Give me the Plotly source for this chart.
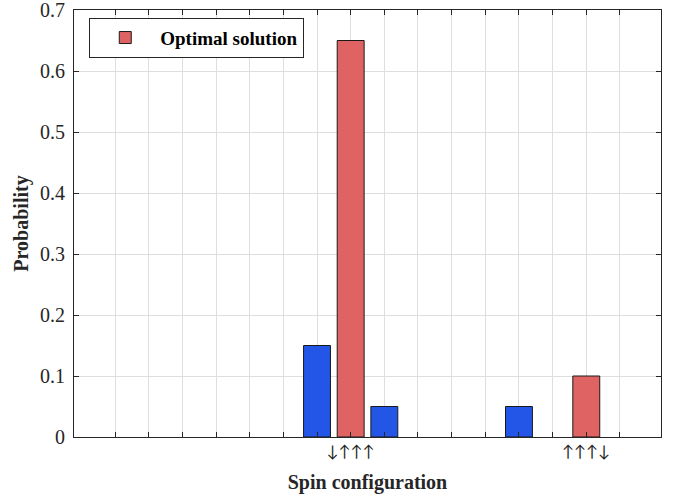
import plotly.graph_objects as go

# Data
configs = list(range(1, 17))
tick_labels = ["", "", "", "", "", "", "", "↓↑↑↑", "", "", "", "", "", "", "↑↑↑↓", ""]
other_prob = [None, None, None, None, None, None, 0.15, None, 0.05, None, None, None, 0.05, None, None, None]
optimal_prob = [None, None, None, None, None, None, None, 0.65, None, None, None, None, None, None, 0.10, None]
y_ticks = [0, 0.1, 0.2, 0.3, 0.4, 0.5, 0.6, 0.7]
y_tick_labels = ["0", "0.1", "0.2", "0.3", "0.4", "0.5", "0.6", "0.7"]

FONT = "Liberation Serif"
ARROW_FONT = "Lato"
AX = "#262626"

fig = go.Figure()
fig.add_trace(go.Bar(x=configs, y=other_prob, width=0.8, name="Other",
                     marker=dict(color="#2356E6", line=dict(color="#1a1a1a", width=1)),
                     showlegend=False))
fig.add_trace(go.Bar(x=configs, y=optimal_prob, width=0.8, name="Optimal solution",
                     marker=dict(color="#E06363", line=dict(color="#1a1a1a", width=1)),
                     showlegend=True))

fig.update_layout(
    width=680, height=498,
    margin=dict(l=74, r=19, t=10, b=61),
    barmode="overlay",
    plot_bgcolor="white", paper_bgcolor="white",
    font=dict(family=FONT, size=16, color=AX),
    legend=dict(x=0.026, y=0.982, xanchor="left", yanchor="top",
                bgcolor="white", bordercolor=AX, borderwidth=1,
                font=dict(family=FONT, size=19, color="black", weight="bold"),
                itemwidth=60),
)
fig.update_xaxes(range=[-0.22, 17.22], tickvals=configs, ticktext=tick_labels,
                 ticks="inside", ticklen=5, tickcolor=AX, tickwidth=1,
                 showline=True, linecolor=AX, linewidth=1, mirror="ticks",
                 showgrid=True, gridcolor="#dedede", gridwidth=1, zeroline=False,
                 automargin=False,
                 tickfont=dict(family=ARROW_FONT, size=16, color=AX),
                 title=dict(text="Spin configuration", standoff=15,
                            font=dict(family=FONT, size=20, color=AX, weight="bold")))
fig.update_yaxes(range=[0, 0.7], tickvals=y_ticks, ticktext=y_tick_labels,
                 ticks="inside", ticklen=5, tickcolor=AX, tickwidth=1,
                 showline=True, linecolor=AX, linewidth=1, mirror="ticks",
                 showgrid=True, gridcolor="#dedede", gridwidth=1, zeroline=False,
                 automargin=False,
                 ticklabelstandoff=4, ticklabeloverflow="allow",
                 tickfont=dict(family=FONT, size=20, color=AX),
                 title=dict(text="Probability", standoff=6,
                            font=dict(family=FONT, size=20, color=AX, weight="bold")))

fig.write_html("out.html")
